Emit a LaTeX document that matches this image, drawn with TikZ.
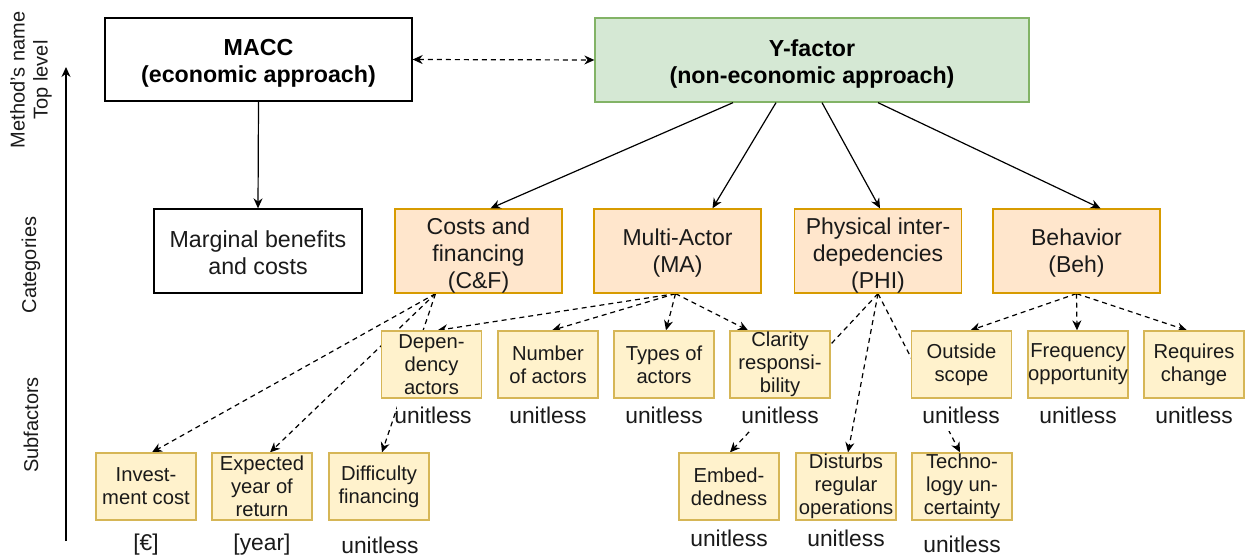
\documentclass[tikz,border=0pt]{standalone}
\usepackage{fontspec}
\setmainfont{Liberation Sans}
\usetikzlibrary{arrows.meta,backgrounds}
\definecolor{catfill}{HTML}{FFE6CC}
\definecolor{catline}{HTML}{D79B00}
\definecolor{subfill}{HTML}{FFF2CC}
\definecolor{subline}{HTML}{D6B656}
\definecolor{yffill}{HTML}{D5E8D4}
\definecolor{yfline}{HTML}{82B366}
\definecolor{txt}{HTML}{1A1A1A}
% invisible strut that lowers the first line of a box label
\newcommand{\lowstrut}[1]{\rule{0pt}{#1}}

\begin{document}
\begin{tikzpicture}[x=1pt,y=-1pt,
  topbox/.style={draw, line width=1.3pt, minimum width=307pt, minimum height=83pt,
    inner sep=0pt, align=center, font=\fontsize{23.2}{27}\selectfont\bfseries},
  plainbox/.style={draw, line width=1.3pt, minimum width=208pt, minimum height=84pt,
    inner sep=0pt, align=center, text=txt, font=\fontsize{23.2}{27}\selectfont},
  catbox/.style={draw=catline, fill=catfill, line width=1.3pt, minimum width=167pt,
    minimum height=84pt, inner sep=0pt, align=center, text=txt,
    font=\fontsize{23}{27}\selectfont},
  subbox/.style={draw=subline, fill=subfill, line width=1.3pt, minimum width=100pt,
    minimum height=67pt, inner sep=0pt, align=center, text=txt,
    font=\fontsize{20.2}{23.2}\selectfont},
  unitlbl/.style={inner xsep=0pt, inner ysep=8pt, fill=white, text=txt,
    font=\fontsize{22.8}{26}\selectfont},
  axislbl/.style={rotate=90, inner sep=0pt, align=center, text=txt,
    font=\fontsize{20}{23}\selectfont},
  arr/.style={-{Stealth[length=10pt,width=9pt]}},
  darr/.style={{Stealth[length=10pt,width=9pt]}-{Stealth[length=10pt,width=9pt]}},
  dsh/.style={line width=1.2pt, dash pattern=on 5pt off 4pt},
  sol/.style={line width=1.2pt}
]
\useasboundingbox (0,0) rectangle (1246,556);

% method level
\node[topbox] (macc) at (258.5,59.5) {\lowstrut{24pt}MACC\\(economic approach)};
\node[topbox, draw=yfline, fill=yffill, minimum width=434pt, minimum height=84pt]
  (yf) at (812,60) {\lowstrut{24pt}Y-factor\\(non-economic approach)};

% category level
\node[plainbox] (mbc) at (258,251) {\lowstrut{21pt}Marginal benefits\\and costs};
\node[catbox] (cf)  at (478.5,251) {\lowstrut{25pt}Costs and\\financing\\(C\&F)};
\node[catbox] (ma)  at (677.5,251) {\lowstrut{21pt}Multi-Actor\\(MA)};
\node[catbox] (phi) at (878,251) {\lowstrut{25pt}Physical inter-\\depedencies\\(PHI)};
\node[catbox] (beh) at (1076.5,251) {\lowstrut{21pt}Behavior\\(Beh)};

% subfactors, first row
\node[subbox] (dep)  at (431.5,364.5) {Depen-\\dency\\actors};
\node[subbox] (num)  at (548,364.5) {Number\\of actors};
\node[subbox] (typ)  at (664,364.5) {Types of\\actors};
\node[subbox] (cla)  at (780,364.5) {Clarity\\responsi-\\bility};
\node[subbox] (out)  at (961.5,364.5) {Outside\\scope};
\node[subbox] (fre)  at (1078,364.5) {Frequency\\opportunity};
\node[subbox] (req)  at (1194,364.5) {Requires\\change};

% subfactors, second row
\node[subbox] (inv)  at (146,486.5) {Invest-\\ment cost};
\node[subbox] (exy)  at (262,486.5) {Expected\\year of\\return};
\node[subbox] (dif)  at (379,486.5) {Difficulty\\financing};
\node[subbox] (emb)  at (729,486.5) {Embed-\\dedness};
\node[subbox] (dis)  at (846,486.5) {Disturbs\\regular\\operations};
\node[subbox] (tec)  at (962,486.5) {Techno-\\logy un-\\certainty};

% units
\node[unitlbl, inner xsep=-3pt] (udep) at (433,415) {unitless};
\node[unitlbl] (unum) at (548,415) {unitless};
\node[unitlbl] (utyp) at (664,415) {unitless};
\node[unitlbl] (ucla) at (780,415) {unitless};
\node[unitlbl] (uout) at (961,415) {unitless};
\node[unitlbl] (ufre) at (1078,415) {unitless};
\node[unitlbl] (ureq) at (1194,415) {unitless};
\node[unitlbl] (uinv) at (146,545) {[€]};
\node[unitlbl] (uexy) at (262,545) {[year]};
\node[unitlbl] (udif) at (380,545) {unitless};
\node[unitlbl] (uemb) at (729,538) {unitless};
\node[unitlbl] (udis) at (846,538) {unitless};
\node[unitlbl] (utec) at (962,544) {unitless};

% vertical level axis
\coordinate (axbot) at (66,541);
\coordinate (axtop) at (66,67);
\draw[sol, arr] (axbot) -- (axtop);
\node[axislbl] (lvtop) at (31,80) {Method's name\\Top level};
\node[axislbl] (lvcat) at (31,265) {Categories};
\node[axislbl] (lvsub) at (31,425) {Subfactors};

% solid links
\draw[sol, arr] (macc.south) -- (mbc.north);
\draw[sol, arr] ([xshift=-79pt]yf.south) -- ([xshift=12pt]cf.north);
\draw[sol, arr] ([xshift=-36pt]yf.south) -- ([xshift=35pt]ma.north);
\draw[sol, arr] ([xshift=10pt]yf.south)  -- ([xshift=2pt]phi.north);
\draw[sol, arr] ([xshift=66pt]yf.south)  -- ([xshift=24pt]beh.north);
\draw[sol, dsh, darr] (macc.east) -- (yf.west);

% dashed links, kept behind the boxes and unit labels
\begin{pgfonlayer}{background}
\fill[white] (0,0) rectangle (1246,556);
\draw[dsh, arr] ([xshift=-43pt]cf.south) -- ([xshift=6pt]inv.north);
\draw[dsh, arr] ([xshift=-43pt]cf.south) -- ([xshift=8pt]exy.north);
\draw[dsh, arr] ([xshift=-43pt]cf.south) -- ([xshift=3pt]dif.north);
\draw[dsh, arr] ([xshift=-2pt]ma.south) -- ([xshift=6pt]dep.north);
\draw[dsh, arr] ([xshift=-2pt]ma.south) -- ([xshift=4pt]num.north);
\draw[dsh, arr] ([xshift=-2pt]ma.south) -- ([xshift=2pt]typ.north);
\draw[dsh, arr] ([xshift=-2pt]ma.south) -- ([xshift=-32pt]cla.north);
\draw[dsh, arr] (phi.south) -- ([xshift=1pt]emb.north);
\draw[dsh, arr] (phi.south) -- ([xshift=2pt]dis.north);
\draw[dsh, arr] (phi.south) -- ([xshift=-2pt]tec.north);
\draw[dsh, arr] (beh.south) -- ([xshift=9pt]out.north);
\draw[dsh, arr] (beh.south) -- ([xshift=-1pt]fre.north);
\draw[dsh, arr] (beh.south) -- ([xshift=-7pt]req.north);
\end{pgfonlayer}
\end{tikzpicture}
\end{document}
